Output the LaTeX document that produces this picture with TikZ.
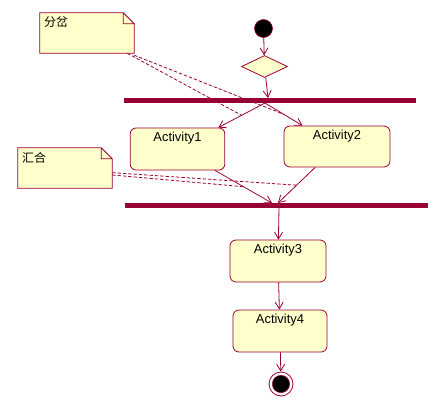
\documentclass[tikz,border=0pt]{standalone}
\usepackage{fontspec}
\setmainfont{Liberation Sans}
\newfontfamily\cjkfont{Noto Sans CJK SC}
\usetikzlibrary{positioning,shapes.geometric,arrows.meta}
\definecolor{umlred}{RGB}{153,0,51}
\definecolor{umlfill}{RGB}{255,255,204}

\begin{document}
\begin{tikzpicture}[
    x=0.75pt, y=-0.75pt,
    act/.style={draw=umlred, rounded corners=4.5pt, fill=umlfill, minimum width=71pt,
                minimum height=31.5pt, inner sep=0pt, line width=0.6pt,
                label={[anchor=north, inner sep=0pt, yshift=-3.5pt, font=\fontsize{9.7}{11}\selectfont]north:#1}},
    bar/.style={fill=umlred, inner sep=0pt, minimum height=3.75pt},
    flow/.style={-{Straight Barb[length=5pt, width=6pt]}, draw=umlred, line width=0.6pt},
    link/.style={draw=umlred, line width=0.6pt, dash pattern=on 2.5pt off 1.5pt},
    note/.style={minimum width=70.5pt, minimum height=30pt, inner sep=0pt},
    notebox/.style={draw=umlred, fill=umlfill, line width=0.6pt},
    notetext/.style={anchor=north west, inner sep=0pt, font=\cjkfont\fontsize{9}{10}\selectfont}
]
\useasboundingbox (0,0) rectangle (434,403);

% Start and decision
\node[circle, fill=black, draw=umlred, minimum size=13.5pt, inner sep=0pt] (st) at (263.5,28.5) {};
\node[diamond, draw=umlred, fill=umlfill, line width=0.6pt, minimum width=34.5pt,
      minimum height=16.5pt, inner sep=0pt] (dec) at (264.5,66.5) {};

% Fork bar
\node[bar, minimum width=219pt] (fork) at (270,100.5) {};
\coordinate (fin) at (268,98);
\coordinate (fout) at (265,103);

% Parallel activities
\node[act=Activity1] (a1) at (177.5,149) {};
\node[act=Activity2, minimum width=79.5pt, minimum height=30.75pt] (a2) at (337,146.5) {};

% Join bar
\node[bar, minimum width=227.25pt] (join) at (276.5,205.5) {};
\coordinate (jin1) at (272,203);
\coordinate (jin2) at (278,203);
\coordinate (jout) at (279,208);

% Sequential activities and end
\node[act=Activity3, minimum width=72pt] (a3) at (278,261) {};
\node[act=Activity4, minimum width=70.5pt] (a4) at (280,331) {};
\node[circle, draw=umlred, fill=white, line width=0.6pt, minimum size=18pt, inner sep=0pt] (en) at (281,384) {};
\node[circle, fill=black, draw=umlred, minimum size=13pt, inner sep=0pt] (enin) at (en) {};

% Transitions
\draw[flow] (st) -- (dec);
\draw[flow] (dec) -- (fin);
\draw[flow] (fout) -- (a1) coordinate[pos=0.5] (m1);
\draw[flow] (fout) -- (a2) coordinate[pos=0.5] (m2);
\draw[flow] (a1) -- (jin1) coordinate[pos=0.5] (m3);
\draw[flow] (a2) -- (jin2) coordinate[pos=0.5] (m4);
\draw[flow] (jout) -- (a3);
\draw[flow] (a3) -- (a4);
\draw[flow] (a4) -- (en);

% Notes
\node[note] (n1) at (87,33) {};
\node[note] (n2) at (65,168) {};
\foreach \n in {n1,n2}
  \draw[notebox] (\n.south west) -- (\n.south east) -- ([yshift=-8.25pt]\n.north east)
    -- ([xshift=-8.25pt]\n.north east) -- (\n.north west) -- cycle
    ([xshift=-8.25pt]\n.north east) -- ([xshift=-8.25pt, yshift=-8.25pt]\n.north east)
    -- ([yshift=-8.25pt]\n.north east);
\node[notetext] (t1) at ([shift={(3pt,-3pt)}]n1.north west) {分岔};
\node[notetext] (t2) at ([shift={(3pt,-3pt)}]n2.north west) {汇合};

% Note links
\draw[link] ([xshift=-5.25pt]n1.south east) -- (m1);
\draw[link] ([yshift=-1.5pt]n1.south east) -- (m2);
\draw[link] ([yshift=-5.25pt]n2.east) -- (m3);
\draw[link] ([yshift=-3.5pt]n2.east) -- (m4);

\end{tikzpicture}
\end{document}
